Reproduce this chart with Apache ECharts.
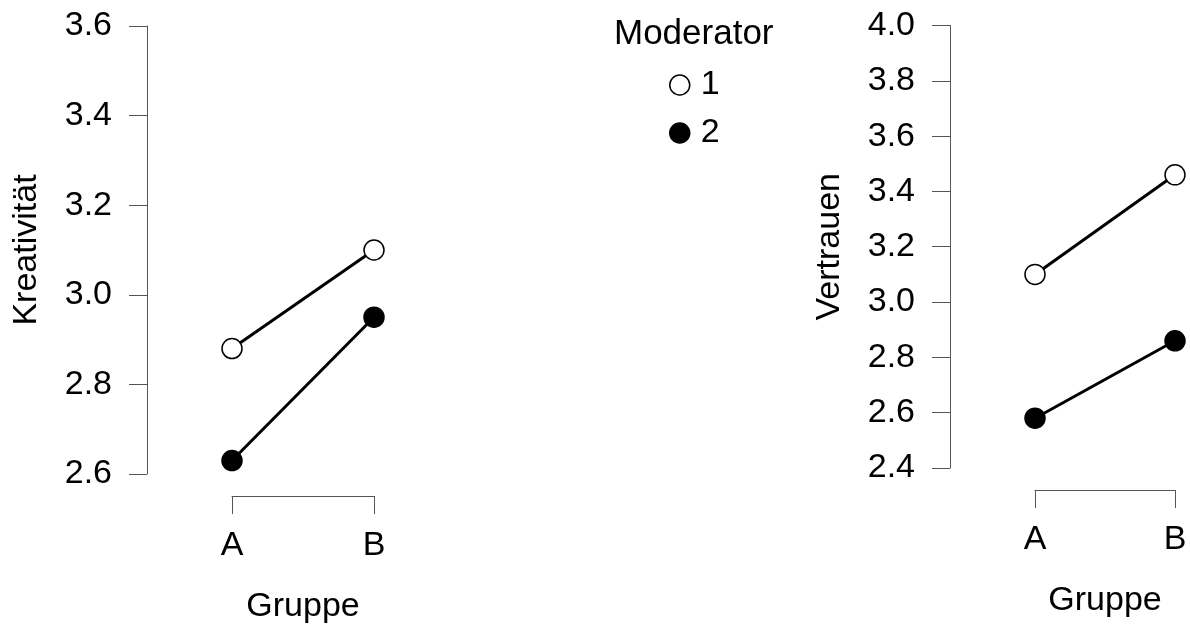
<!DOCTYPE html>
<html>
<head>
<meta charset="utf-8">
<script src="https://cdn.jsdelivr.net/npm/echarts@6/dist/echarts.min.js"></script>
<style>
html,body{margin:0;padding:0;background:#fff;}
#c{width:1190px;height:629px;}
</style>
</head>
<body>
<div id="c"></div>
<script>
const groups = ['A', 'B'];
const moderatorLevels = ['1', '2'];
const kreativitaet1 = [2.88, 3.10];
const kreativitaet2 = [2.63, 2.95];
const vertrauen1 = [3.10, 3.46];
const vertrauen2 = [2.58, 2.86];
const leftTitle = 'Kreativität';
const rightTitle = 'Vertrauen';
const xTitle = 'Gruppe';
const legendTitle = 'Moderator';

const FONT = 'Liberation Sans, Arial, Helvetica, sans-serif';
const FS = 34;
const axisCol = '#555';

const chart = echarts.init(document.getElementById('c'), null, {renderer: 'canvas'});

function xAx(gridIndex) {
  return {
    type: 'category', gridIndex, data: groups, boundaryGap: false,
    offset: 22,
    axisLine: {show: true, lineStyle: {color: axisCol, width: 1}},
    axisTick: {show: true, length: 18, alignWithLabel: true, lineStyle: {color: axisCol, width: 1}},
    axisLabel: {color: '#000', fontSize: FS, fontFamily: FONT, margin: 33},
    name: xTitle, nameLocation: 'middle', nameGap: 94,
    nameTextStyle: {color: '#000', fontSize: FS, fontFamily: FONT},
    splitLine: {show: false}
  };
}
function yAx(gridIndex, min, max, name) {
  return {
    type: 'value', gridIndex, min, max, interval: 0.2, offset: 85,
    axisLine: {show: true, lineStyle: {color: axisCol, width: 1}},
    axisTick: {show: true, length: 18, lineStyle: {color: axisCol, width: 1}},
    axisLabel: {color: '#000', fontSize: FS, fontFamily: FONT, margin: 35,
      formatter: v => v.toFixed(1)},
    splitLine: {show: false},
    name, nameLocation: 'middle', nameGap: 103,
    nameTextStyle: {color: '#000', fontSize: FS, fontFamily: FONT}
  };
}
function ser(name, xi, data, filled) {
  return {
    type: 'line', name, xAxisIndex: xi, yAxisIndex: xi, data,
    symbol: 'circle', symbolSize: 20, clip: false,
    lineStyle: {color: '#000', width: 3},
    itemStyle: {color: filled ? '#000' : '#fff', borderColor: '#000', borderWidth: 1.5},
    emphasis: {disabled: true},
    animation: false, z: 3
  };
}

const option = {
  backgroundColor: '#fff',
  animation: false,
  title: {
    text: legendTitle, left: 614, top: 17, padding: 0,
    textStyle: {color: '#000', fontSize: 35, fontWeight: 'normal', fontFamily: FONT}
  },
  legend: {
    orient: 'vertical', left: 669, top: 68, padding: 0,
    itemWidth: 32, itemHeight: 20, itemGap: 14, symbolKeepAspect: true,
    textStyle: {color: '#000', fontSize: FS, fontFamily: FONT},
    data: [
      {name: moderatorLevels[0], icon: 'circle', itemStyle: {color: '#fff', borderColor: '#000', borderWidth: 1.5}},
      {name: moderatorLevels[1], icon: 'circle', itemStyle: {color: '#000', borderColor: '#000', borderWidth: 1.5}}
    ],
    selectedMode: false
  },
  grid: [
    {left: 232, width: 142, top: 26, height: 449.5, containLabel: false},
    {left: 1035, width: 140, top: 25.5, height: 442.5, containLabel: false}
  ],
  xAxis: [xAx(0), xAx(1)],
  yAxis: [yAx(0, 2.6, 3.6, leftTitle), yAx(1, 2.4, 4.0, rightTitle)],
  series: [
    ser(moderatorLevels[0], 0, kreativitaet1, false),
    ser(moderatorLevels[1], 0, kreativitaet2, true),
    ser(moderatorLevels[0], 1, vertrauen1, false),
    ser(moderatorLevels[1], 1, vertrauen2, true)
  ]
};
chart.setOption(option);
</script>
</body>
</html>
